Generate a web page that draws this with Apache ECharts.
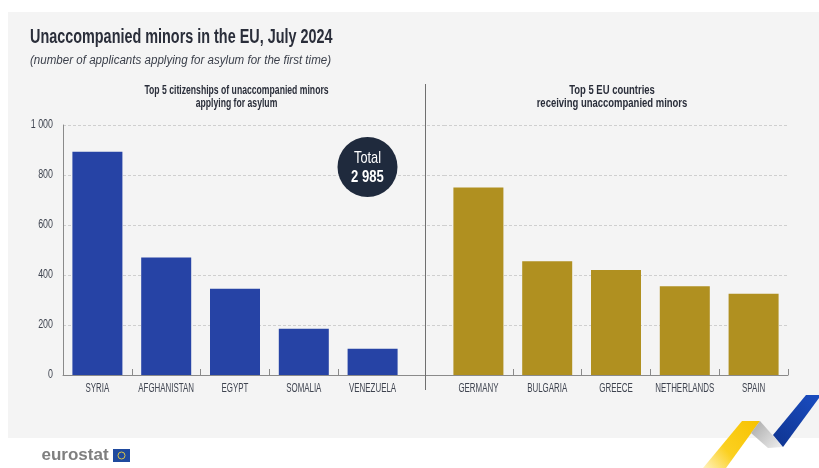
<!DOCTYPE html>
<html><head><meta charset="utf-8">
<style>html,body{margin:0;padding:0;background:#fff}#c{width:819px;height:468px}</style>
<script src="https://cdn.jsdelivr.net/npm/echarts@6/dist/echarts.min.js"></script>
</head><body><div id="c"></div>
<script>
const citizenships = ['SYRIA','AFGHANISTAN','EGYPT','SOMALIA','VENEZUELA'];
const citizenshipValues = [893,470,345,185,105];
const countries = ['GERMANY','BULGARIA','GREECE','NETHERLANDS','SPAIN'];
const countryValues = [750,455,420,355,325];
const yMax = 1000, yStep = 200;
const titleText = 'Unaccompanied minors in the EU, July 2024';
const subtitleText = '(number of applicants applying for asylum for the first time)';
const leftHeading = 'Top 5 citizenships of unaccompanied minors\napplying for asylum';
const rightHeading = 'Top 5 EU countries\nreceiving unaccompanied minors';
const totalLabel = 'Total', totalValue = '2 985';

const sans = '"Liberation Sans",sans-serif';
const plotTop = 125, plotH = 250;
const split = {show:true,lineStyle:{color:'#cfcfcf',type:[3,2],width:1}};
const xLine = {show:true,lineStyle:{color:'#8a8a8a',width:1}};
function fmt(v){return v>=1000?String(v).replace(/\B(?=(\d{3})+$)/g,' '):String(v);}
function yAxis(i,showLabels){return {gridIndex:i,type:'value',min:0,max:yMax,interval:yStep,
  axisLine:{show:showLabels,lineStyle:{color:'#8a8a8a'}},axisTick:{show:false},splitLine:split,
  axisLabel:{show:showLabels,color:'#3f4450',fontFamily:sans,fontSize:12,margin:10,formatter:fmt}};}
function xAxis(i,cats){return {gridIndex:i,type:'category',data:cats,axisLine:xLine,
  axisTick:{show:true,inside:true,length:6,lineStyle:{color:'#8a8a8a'}},
  axisLabel:{color:'#3f4450',fontFamily:sans,fontSize:12,margin:8,interval:0}};}
const option = {
  animation:false,
  grid:[
    {left:63,width:344,top:plotTop,height:plotH},
    {left:407,width:37,top:plotTop,height:plotH},
    {left:444,width:344,top:plotTop,height:plotH}
  ],
  xAxis:[xAxis(0,citizenships),
    {gridIndex:1,type:'value',min:0,max:1,axisLine:xLine,axisTick:{show:false},axisLabel:{show:false},splitLine:{show:false}},
    xAxis(2,countries)],
  yAxis:[yAxis(0,true),yAxis(1,false),yAxis(2,false)],
  series:[
    {type:'bar',xAxisIndex:0,yAxisIndex:0,data:citizenshipValues,barWidth:50,itemStyle:{color:'#2643a5'}},
    {type:'bar',xAxisIndex:2,yAxisIndex:2,data:countryValues,barWidth:50,itemStyle:{color:'#b09020'}}
  ],
  graphic:[
    {type:'rect',z:-10,shape:{x:8,y:12,width:811,height:426},style:{fill:'#f4f4f4'}},
    {type:'text',x:30,y:37,scaleX:0.72,style:{text:titleText,font:'bold 20px '+sans,fill:'#2a2e3a',textVerticalAlign:'middle'}},
    {type:'text',x:30,y:61,scaleX:0.926,style:{text:subtitleText,font:'italic 12.5px '+sans,fill:'#3a3f4a',textVerticalAlign:'middle'}},
    {type:'text',x:236.5,y:97.5,scaleX:0.72,style:{text:leftHeading,font:'bold 12px '+sans,lineHeight:13,fill:'#2a2e3a',textAlign:'center',textVerticalAlign:'middle'}},
    {type:'text',x:612,y:97.5,scaleX:0.79,style:{text:rightHeading,font:'bold 12px '+sans,lineHeight:13,fill:'#2a2e3a',textAlign:'center',textVerticalAlign:'middle'}},
    {type:'line',z:5,shape:{x1:425.5,y1:84,x2:425.5,y2:390},style:{stroke:'#6f6f6f',lineWidth:1}},
    {type:'circle',z:10,shape:{cx:367.5,cy:167,r:30},style:{fill:'#1f2a3d'}},
    {type:'text',z:11,x:367.5,y:158,scaleX:0.75,style:{text:totalLabel,font:'17px '+sans,fill:'#fff',textAlign:'center',textVerticalAlign:'middle'}},
    {type:'text',z:11,x:367.5,y:177,scaleX:0.77,style:{text:totalValue,font:'bold 17px '+sans,fill:'#fff',textAlign:'center',textVerticalAlign:'middle'}},
    {type:'text',x:41.5,y:455,style:{text:'eurostat',font:'bold 17px '+sans,fill:'#7f7f7f',textVerticalAlign:'middle'}},
    {type:'rect',shape:{x:113,y:449,width:17,height:13},style:{fill:'#1f4a9e'}},
    {type:'circle',shape:{cx:121.5,cy:455.5,r:3.5},style:{fill:'none',stroke:'#d9c54a',lineWidth:1}},
    {type:'polygon',z:6,shape:{points:[[742,421],[760,421],[726,468],[703,468]]},style:{fill:{type:'linear',x:1,y:0,x2:0,y2:1,colorStops:[{offset:0,color:'#f7c200'},{offset:0.6,color:'#fbd020'},{offset:1,color:'#fff2c0'}]}}},
    {type:'polygon',z:6,shape:{points:[[760,421],[751,433],[768,448],[783,447]]},style:{fill:{type:'linear',x:0,y:0,x2:1,y2:1,colorStops:[{offset:0,color:'#a8a8a8'},{offset:1,color:'#f0f0f0'}]}}},
    {type:'polygon',z:6,shape:{points:[[806,395],[819,395],[819,398],[783,447],[773,435]]},style:{fill:{type:'linear',x:1,y:0,x2:0,y2:1,colorStops:[{offset:0,color:'#1a4cc0'},{offset:1,color:'#0f3490'}]}}}
  ]
};
const chart = echarts.init(document.getElementById('c'),null,{renderer:'canvas'});
chart.setOption(option);

// No condensed face is installed: narrow the axis labels to the reference's widths,
// and drop the tick the band axis adds at the ends facing the gap between the panels.
const axisWords = new Set([...citizenships,...countries,'0','200','400','600','800','1 000']);
const zr = chart.getZr();
zr.storage.getDisplayList(true).forEach(el => {
  const host = el.parent;
  if (el.type === 'tspan' && host && axisWords.has(el.style.text)) {
    host.scaleX = citizenships.includes(el.style.text) || countries.includes(el.style.text) ? 0.66 : 0.74;
    host.markRedraw();
  }
  if (el.shape && el.shape.x1 !== undefined && Math.abs(el.shape.x1 - el.shape.x2) < 1
      && el.shape.y1 > 360 && (Math.abs(el.shape.x1 - 407) < 2 || Math.abs(el.shape.x1 - 444) < 2)) {
    el.ignore = true;
    el.markRedraw();
  }
});
zr.refreshImmediately();
</script></body></html>
